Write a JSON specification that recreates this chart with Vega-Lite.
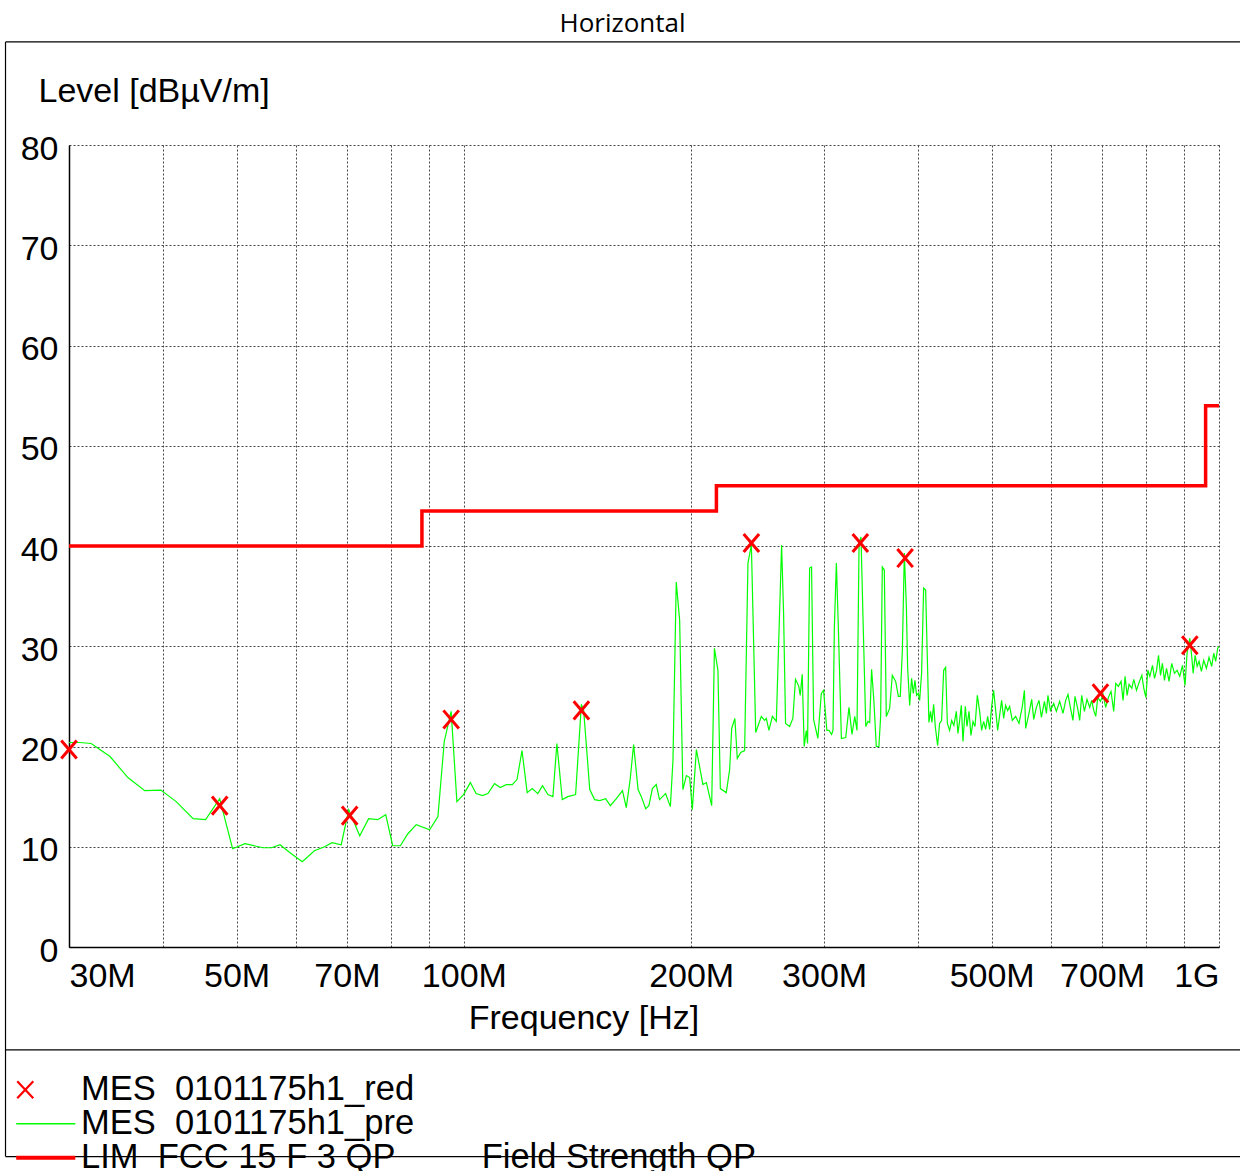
{
  "$schema": "https://vega.github.io/schema/vega-lite/v6.json",
  "width": 1150,
  "height": 802,
  "autosize": {"type": "none"},
  "padding": {"left": 69, "top": 145, "right": 21, "bottom": 224},
  "background": "white",
  "title": {"text": "Horizontal", "orient": "top", "font": "Open Sans", "fontSize": 26, "fontWeight": "normal", "color": "black", "anchor": "middle", "frame": "group", "baseline": "alphabetic", "offset": 10, "dx": -21.5, "dy": 27},
  "config": {"view": {"stroke": null}, "font": "Liberation Sans"},
  "datasets": {
    "lim": [
      {"f": 30, "v": 40, "s": "lim"}, {"f": 88, "v": 43.5, "s": "lim"}, {"f": 216, "v": 46, "s": "lim"}, {"f": 960, "v": 54, "s": "lim"}, {"f": 1000, "v": 54, "s": "lim"}
    ],
    "red": [
      {"f": 30.0, "v": 19.7, "s": "red"}, {"f": 47.5, "v": 14.1, "s": "red"}, {"f": 70.6, "v": 13.1, "s": "red"}, {"f": 96.2, "v": 22.7, "s": "red"}, {"f": 143.1, "v": 23.6, "s": "red"}, {"f": 240.3, "v": 40.3, "s": "red"}, {"f": 335.0, "v": 40.3, "s": "red"}, {"f": 384.0, "v": 38.8, "s": "red"}, {"f": 696.6, "v": 25.3, "s": "red"}, {"f": 914.9, "v": 30.1, "s": "red"}
    ],
    "frame": [{"x1": 24.72, "x2": 1100, "y1": 90.28, "y2": 90.28}, {"x1": 24.72, "x2": 1100, "y1": -10.27, "y2": -10.27}, {"x1": 24.72, "x2": 1100, "y1": -20.91, "y2": -20.91}, {"x1": 24.72, "x2": 24.72, "y1": 90.28, "y2": -20.91}],
    "pre": [
      {"f":30.0,"v":20.4,"s":"pre"},{"f":31.0,"v":20.4,"s":"pre"},{"f":32.1,"v":20.3,"s":"pre"},{"f":34.0,"v":19.0,"s":"pre"},{"f":35.9,"v":16.9,"s":"pre"},{"f":37.8,"v":15.6,"s":"pre"},{"f":39.7,"v":15.65,"s":"pre"},{"f":41.6,"v":14.5,"s":"pre"},{"f":43.8,"v":12.8,"s":"pre"},{"f":45.5,"v":12.7,"s":"pre"},{"f":47.5,"v":14.8,"s":"pre"},{"f":49.4,"v":9.8,"s":"pre"},{"f":51.3,"v":10.3,"s":"pre"},{"f":54.2,"v":9.9,"s":"pre"},{"f":55.6,"v":9.9,"s":"pre"},{"f":57.1,"v":10.2,"s":"pre"},{"f":59.1,"v":9.3,"s":"pre"},{"f":61.1,"v":8.5,"s":"pre"},{"f":63.4,"v":9.6,"s":"pre"},{"f":65.4,"v":10.0,"s":"pre"},{"f":66.9,"v":10.4,"s":"pre"},{"f":68.8,"v":10.2,"s":"pre"},{"f":70.4,"v":13.7,"s":"pre"},{"f":72.8,"v":11.1,"s":"pre"},{"f":74.8,"v":12.8,"s":"pre"},{"f":76.9,"v":12.7,"s":"pre"},{"f":78.8,"v":13.2,"s":"pre"},{"f":80.5,"v":10.1,"s":"pre"},{"f":82.4,"v":10.1,"s":"pre"},{"f":84.3,"v":11.3,"s":"pre"},{"f":86.5,"v":12.2,"s":"pre"},{"f":90.1,"v":11.7,"s":"pre"},{"f":92.4,"v":13.0,"s":"pre"},{"f":94.2,"v":20.5,"s":"pre"},{"f":96.2,"v":23.5,"s":"pre"},{"f":97.9,"v":14.5,"s":"pre"},{"f":99.9,"v":15.2,"s":"pre"},{"f":102.0,"v":16.4,"s":"pre"},{"f":103.8,"v":15.3,"s":"pre"},{"f":105.8,"v":15.1,"s":"pre"},{"f":107.6,"v":15.3,"s":"pre"},{"f":109.8,"v":16.3,"s":"pre"},{"f":111.7,"v":15.9,"s":"pre"},{"f":113.8,"v":16.2,"s":"pre"},{"f":115.9,"v":16.2,"s":"pre"},{"f":117.6,"v":16.7,"s":"pre"},{"f":119.4,"v":19.6,"s":"pre"},{"f":121.3,"v":15.4,"s":"pre"},{"f":123.2,"v":15.8,"s":"pre"},{"f":125.3,"v":15.3,"s":"pre"},{"f":127.1,"v":16.1,"s":"pre"},{"f":129.2,"v":15.2,"s":"pre"},{"f":131.2,"v":15.0,"s":"pre"},{"f":132.8,"v":20.3,"s":"pre"},{"f":135.0,"v":14.7,"s":"pre"},{"f":137.3,"v":15.0,"s":"pre"},{"f":140.6,"v":15.2,"s":"pre"},{"f":143.1,"v":24.2,"s":"pre"},{"f":144.1,"v":23.6,"s":"pre"},{"f":146.8,"v":15.7,"s":"pre"},{"f":149.0,"v":14.7,"s":"pre"},{"f":151.3,"v":14.6,"s":"pre"},{"f":154.1,"v":14.8,"s":"pre"},{"f":156.3,"v":14.1,"s":"pre"},{"f":159.2,"v":14.8,"s":"pre"},{"f":162.2,"v":15.6,"s":"pre"},{"f":164.1,"v":13.9,"s":"pre"},{"f":166.1,"v":16.8,"s":"pre"},{"f":167.8,"v":20.2,"s":"pre"},{"f":170.1,"v":15.7,"s":"pre"},{"f":171.8,"v":15.0,"s":"pre"},{"f":174.1,"v":13.8,"s":"pre"},{"f":175.8,"v":14.1,"s":"pre"},{"f":177.7,"v":15.8,"s":"pre"},{"f":179.8,"v":16.2,"s":"pre"},{"f":181.6,"v":14.7,"s":"pre"},{"f":185.0,"v":15.3,"s":"pre"},{"f":187.7,"v":14.0,"s":"pre"},{"f":189.2,"v":18.6,"s":"pre"},{"f":191.1,"v":36.4,"s":"pre"},{"f":193.1,"v":32.6,"s":"pre"},{"f":195.0,"v":15.7,"s":"pre"},{"f":197.1,"v":17.1,"s":"pre"},{"f":199.1,"v":16.9,"s":"pre"},{"f":200.7,"v":13.7,"s":"pre"},{"f":203.2,"v":19.7,"s":"pre"},{"f":205.2,"v":18.0,"s":"pre"},{"f":207.3,"v":16.2,"s":"pre"},{"f":209.5,"v":16.4,"s":"pre"},{"f":212.9,"v":14.1,"s":"pre"},{"f":214.7,"v":29.8,"s":"pre"},{"f":217.0,"v":27.6,"s":"pre"},{"f":218.6,"v":15.8,"s":"pre"},{"f":222.6,"v":15.4,"s":"pre"},{"f":224.9,"v":17.7,"s":"pre"},{"f":226.3,"v":21.8,"s":"pre"},{"f":228.5,"v":22.8,"s":"pre"},{"f":230.2,"v":18.8,"s":"pre"},{"f":232.6,"v":19.4,"s":"pre"},{"f":235.4,"v":19.6,"s":"pre"},{"f":237.8,"v":38.3,"s":"pre"},{"f":240.3,"v":40.1,"s":"pre"},{"f":243.5,"v":21.4,"s":"pre"},{"f":247.7,"v":23.0,"s":"pre"},{"f":250.2,"v":22.6,"s":"pre"},{"f":251.5,"v":22.8,"s":"pre"},{"f":253.5,"v":21.6,"s":"pre"},{"f":256.2,"v":23.0,"s":"pre"},{"f":259.3,"v":22.5,"s":"pre"},{"f":263.5,"v":40.1,"s":"pre"},{"f":265.1,"v":33.3,"s":"pre"},{"f":266.7,"v":22.3,"s":"pre"},{"f":270.0,"v":22.0,"s":"pre"},{"f":272.7,"v":22.8,"s":"pre"},{"f":274.9,"v":26.7,"s":"pre"},{"f":277.7,"v":26.0,"s":"pre"},{"f":278.9,"v":25.1,"s":"pre"},{"f":280.6,"v":27.2,"s":"pre"},{"f":282.3,"v":20.0,"s":"pre"},{"f":284.1,"v":21.6,"s":"pre"},{"f":285.2,"v":20.3,"s":"pre"},{"f":287.0,"v":37.8,"s":"pre"},{"f":288.7,"v":37.9,"s":"pre"},{"f":290.5,"v":22.7,"s":"pre"},{"f":294.3,"v":20.8,"s":"pre"},{"f":297.4,"v":25.3,"s":"pre"},{"f":299.5,"v":25.6,"s":"pre"},{"f":302.5,"v":21.6,"s":"pre"},{"f":304.4,"v":21.6,"s":"pre"},{"f":306.9,"v":21.2,"s":"pre"},{"f":308.2,"v":21.6,"s":"pre"},{"f":309.5,"v":31.9,"s":"pre"},{"f":311.4,"v":38.3,"s":"pre"},{"f":313.3,"v":31.8,"s":"pre"},{"f":316.2,"v":20.8,"s":"pre"},{"f":320.4,"v":20.9,"s":"pre"},{"f":323.6,"v":23.9,"s":"pre"},{"f":326.6,"v":21.2,"s":"pre"},{"f":329.3,"v":23.0,"s":"pre"},{"f":331.6,"v":21.6,"s":"pre"},{"f":333.7,"v":40.3,"s":"pre"},{"f":335.7,"v":40.9,"s":"pre"},{"f":337.8,"v":32.6,"s":"pre"},{"f":340.6,"v":22.0,"s":"pre"},{"f":342.9,"v":22.5,"s":"pre"},{"f":344.7,"v":22.4,"s":"pre"},{"f":346.7,"v":27.7,"s":"pre"},{"f":349.1,"v":24.6,"s":"pre"},{"f":351.7,"v":20.0,"s":"pre"},{"f":354.5,"v":20.0,"s":"pre"},{"f":356.4,"v":23.0,"s":"pre"},{"f":358.2,"v":37.9,"s":"pre"},{"f":360.4,"v":37.6,"s":"pre"},{"f":362.6,"v":23.0,"s":"pre"},{"f":366.3,"v":23.8,"s":"pre"},{"f":369.3,"v":27.1,"s":"pre"},{"f":373.1,"v":26.5,"s":"pre"},{"f":376.2,"v":25.0,"s":"pre"},{"f":378.4,"v":25.0,"s":"pre"},{"f":380.8,"v":29.6,"s":"pre"},{"f":383.1,"v":39.3,"s":"pre"},{"f":385.5,"v":33.9,"s":"pre"},{"f":387.0,"v":27.8,"s":"pre"},{"f":389.4,"v":24.1,"s":"pre"},{"f":391.7,"v":26.8,"s":"pre"},{"f":393.7,"v":25.3,"s":"pre"},{"f":395.7,"v":26.6,"s":"pre"},{"f":397.7,"v":25.1,"s":"pre"},{"f":399.8,"v":25.3,"s":"pre"},{"f":401.4,"v":24.6,"s":"pre"},{"f":403.8,"v":27.3,"s":"pre"},{"f":406.3,"v":35.8,"s":"pre"},{"f":408.8,"v":35.6,"s":"pre"},{"f":411.3,"v":27.6,"s":"pre"},{"f":412.9,"v":22.4,"s":"pre"},{"f":415.0,"v":23.5,"s":"pre"},{"f":416.7,"v":22.4,"s":"pre"},{"f":418.9,"v":24.2,"s":"pre"},{"f":421.0,"v":22.0,"s":"pre"},{"f":424.0,"v":20.1,"s":"pre"},{"f":426.6,"v":22.3,"s":"pre"},{"f":429.2,"v":22.6,"s":"pre"},{"f":431.9,"v":27.6,"s":"pre"},{"f":434.5,"v":27.9,"s":"pre"},{"f":436.8,"v":22.3,"s":"pre"},{"f":439.8,"v":21.6,"s":"pre"},{"f":442.6,"v":22.6,"s":"pre"},{"f":445.6,"v":22.1,"s":"pre"},{"f":448.9,"v":23.5,"s":"pre"},{"f":451.1,"v":21.3,"s":"pre"},{"f":453.5,"v":22.6,"s":"pre"},{"f":455.8,"v":24.1,"s":"pre"},{"f":458.1,"v":20.5,"s":"pre"},{"f":461.4,"v":24.0,"s":"pre"},{"f":463.7,"v":22.0,"s":"pre"},{"f":466.6,"v":23.5,"s":"pre"},{"f":469.4,"v":21.1,"s":"pre"},{"f":472.3,"v":22.5,"s":"pre"},{"f":475.2,"v":22.0,"s":"pre"},{"f":478.6,"v":25.1,"s":"pre"},{"f":482.0,"v":23.5,"s":"pre"},{"f":484.9,"v":21.6,"s":"pre"},{"f":487.9,"v":22.5,"s":"pre"},{"f":490.9,"v":21.7,"s":"pre"},{"f":493.9,"v":23.0,"s":"pre"},{"f":496.9,"v":21.7,"s":"pre"},{"f":500.0,"v":24.0,"s":"pre"},{"f":503.0,"v":25.6,"s":"pre"},{"f":506.1,"v":23.6,"s":"pre"},{"f":509.2,"v":21.6,"s":"pre"},{"f":512.3,"v":23.1,"s":"pre"},{"f":515.4,"v":24.6,"s":"pre"},{"f":518.6,"v":22.8,"s":"pre"},{"f":521.7,"v":24.1,"s":"pre"},{"f":524.9,"v":23.6,"s":"pre"},{"f":528.1,"v":24.0,"s":"pre"},{"f":532.5,"v":22.6,"s":"pre"},{"f":537.9,"v":23.0,"s":"pre"},{"f":543.4,"v":22.3,"s":"pre"},{"f":549.0,"v":24.0,"s":"pre"},{"f":552.5,"v":25.6,"s":"pre"},{"f":554.6,"v":21.8,"s":"pre"},{"f":560.2,"v":23.3,"s":"pre"},{"f":564.9,"v":24.7,"s":"pre"},{"f":568.4,"v":22.7,"s":"pre"},{"f":573.0,"v":23.9,"s":"pre"},{"f":577.6,"v":24.6,"s":"pre"},{"f":581.9,"v":22.9,"s":"pre"},{"f":587.2,"v":24.5,"s":"pre"},{"f":590.8,"v":23.3,"s":"pre"},{"f":593.6,"v":25.1,"s":"pre"},{"f":598.0,"v":23.6,"s":"pre"},{"f":604.1,"v":24.3,"s":"pre"},{"f":609.0,"v":23.5,"s":"pre"},{"f":615.2,"v":24.5,"s":"pre"},{"f":621.5,"v":23.3,"s":"pre"},{"f":626.6,"v":24.6,"s":"pre"},{"f":631.0,"v":25.2,"s":"pre"},{"f":635.6,"v":23.9,"s":"pre"},{"f":640.6,"v":22.6,"s":"pre"},{"f":644.6,"v":25.0,"s":"pre"},{"f":649.9,"v":23.8,"s":"pre"},{"f":653.9,"v":22.6,"s":"pre"},{"f":657.9,"v":25.1,"s":"pre"},{"f":663.4,"v":23.5,"s":"pre"},{"f":668.7,"v":24.7,"s":"pre"},{"f":674.2,"v":23.9,"s":"pre"},{"f":678.3,"v":24.6,"s":"pre"},{"f":682.5,"v":23.6,"s":"pre"},{"f":686.7,"v":23.0,"s":"pre"},{"f":690.9,"v":24.9,"s":"pre"},{"f":696.6,"v":24.5,"s":"pre"},{"f":702.2,"v":25.2,"s":"pre"},{"f":707.9,"v":23.9,"s":"pre"},{"f":713.8,"v":24.9,"s":"pre"},{"f":719.5,"v":25.5,"s":"pre"},{"f":725.4,"v":23.5,"s":"pre"},{"f":729.9,"v":26.3,"s":"pre"},{"f":735.9,"v":26.0,"s":"pre"},{"f":741.8,"v":26.5,"s":"pre"},{"f":746.4,"v":24.6,"s":"pre"},{"f":751.0,"v":27.0,"s":"pre"},{"f":755.6,"v":25.1,"s":"pre"},{"f":760.2,"v":26.2,"s":"pre"},{"f":766.5,"v":25.8,"s":"pre"},{"f":771.2,"v":26.7,"s":"pre"},{"f":777.6,"v":25.6,"s":"pre"},{"f":783.8,"v":26.4,"s":"pre"},{"f":790.3,"v":27.1,"s":"pre"},{"f":795.1,"v":25.8,"s":"pre"},{"f":800.0,"v":24.9,"s":"pre"},{"f":804.9,"v":27.6,"s":"pre"},{"f":809.8,"v":27.0,"s":"pre"},{"f":816.5,"v":28.1,"s":"pre"},{"f":821.5,"v":26.8,"s":"pre"},{"f":826.6,"v":27.6,"s":"pre"},{"f":831.6,"v":29.1,"s":"pre"},{"f":836.7,"v":27.1,"s":"pre"},{"f":841.4,"v":28.3,"s":"pre"},{"f":846.9,"v":26.6,"s":"pre"},{"f":852.1,"v":27.8,"s":"pre"},{"f":858.8,"v":26.5,"s":"pre"},{"f":865.8,"v":28.3,"s":"pre"},{"f":873.0,"v":27.3,"s":"pre"},{"f":880.0,"v":27.6,"s":"pre"},{"f":887.2,"v":27.0,"s":"pre"},{"f":894.6,"v":28.1,"s":"pre"},{"f":901.6,"v":26.1,"s":"pre"},{"f":907.4,"v":29.4,"s":"pre"},{"f":914.9,"v":30.8,"s":"pre"},{"f":920.4,"v":28.9,"s":"pre"},{"f":924.2,"v":27.3,"s":"pre"},{"f":929.8,"v":29.1,"s":"pre"},{"f":935.5,"v":28.0,"s":"pre"},{"f":941.0,"v":28.5,"s":"pre"},{"f":947.8,"v":27.5,"s":"pre"},{"f":954.4,"v":28.6,"s":"pre"},{"f":962.4,"v":27.8,"s":"pre"},{"f":970.0,"v":28.9,"s":"pre"},{"f":978.0,"v":28.0,"s":"pre"},{"f":984.0,"v":29.3,"s":"pre"},{"f":990.0,"v":28.5,"s":"pre"},{"f":996.1,"v":29.8,"s":"pre"},{"f":1000,"v":30.0,"s":"pre"}
    ]
  },
  "layer": [
    {
      "data": {"name": "frame"},
      "mark": {"type": "rule", "color": "black", "strokeWidth": 1.2, "clip": false},
      "encoding": {
        "x": {"field": "x1", "type": "quantitative", "scale": {"type": "log", "domain": [30, 1000], "nice": false}},
        "x2": {"field": "x2"},
        "y": {"field": "y1", "type": "quantitative", "scale": {"domain": [0, 80], "nice": false}},
        "y2": {"field": "y2"}
      }
    },
    {
      "data": {"name": "lim"},
      "mark": {"type": "line", "interpolate": "step-after", "strokeWidth": 3.5},
      "encoding": {
        "x": {"field": "f", "type": "quantitative", "scale": {"type": "log", "domain": [30, 1000], "nice": false}},
        "y": {"field": "v", "type": "quantitative", "scale": {"domain": [0, 80], "nice": false}},
        "color": {"field": "s", "type": "nominal"}
      }
    },
    {
      "data": {"name": "pre"},
      "mark": {"type": "line", "strokeWidth": 1.2},
      "encoding": {
        "x": {
          "field": "f", "type": "quantitative",
          "scale": {"type": "log", "domain": [30, 1000], "nice": false},
          "axis": {
            "values": [30, 40, 50, 60, 70, 80, 90, 100, 200, 300, 400, 500, 600, 700, 800, 900, 1000],
            "labelExpr": "datum.value == 1000 ? '1G' : (indexof([30,50,70,100,200,300,500,700], datum.value) >= 0 ? datum.value + 'M' : '')",
            "labelFlush": true, "labelOverlap": false, "labelFont": "Liberation Sans", "labelFontSize": 34, "labelColor": "black", "labelPadding": 12,
            "ticks": false, "grid": true, "gridColor": "#444444", "gridDash": [2, 2], "gridWidth": 1,
            "domainColor": "black", "domainWidth": 1.5,
            "title": "Frequency [Hz]", "titleFont": "Liberation Sans", "titleFontSize": 34, "titleFontWeight": "normal", "titleColor": "black",
            "titleX": 514.5, "titleY": 81, "titleAlign": "center", "titleBaseline": "alphabetic"
          }
        },
        "y": {
          "field": "v", "type": "quantitative",
          "scale": {"domain": [0, 80], "nice": false},
          "axis": {
            "values": [0, 10, 20, 30, 40, 50, 60, 70, 80],
            "labelFont": "Liberation Sans", "labelFontSize": 34, "labelColor": "black", "labelPadding": 11, "labelOffset": 4,
            "ticks": false, "grid": true, "gridColor": "#444444", "gridDash": [2, 2], "gridWidth": 1,
            "domainColor": "black", "domainWidth": 1.5,
            "title": "Level [dBµV/m]", "titleFont": "Liberation Sans", "titleFontSize": 34, "titleFontWeight": "normal", "titleColor": "black",
            "titleAngle": 0, "titleAlign": "left", "titleBaseline": "alphabetic", "titleX": -31, "titleY": -43.5
          }
        },
        "color": {
          "field": "s", "type": "nominal",
          "scale": {"domain": ["red", "pre", "lim"], "range": ["#ff0000", "#00ff00", "#ff0000"]},
          "legend": {
            "title": null, "orient": "none", "legendX": -40.5, "legendY": 927.5, "padding": 0,
            "labelFont": "Liberation Sans", "labelFontSize": 34.5, "labelColor": "black", "labelLimit": 2000, "labelOffset": 18,
            "symbolSize": 900, "rowPadding": -2,
            "labelExpr": "datum.value == 'red' ? 'MES\u00a0\u00a00101175h1_red' : datum.value == 'pre' ? 'MES\u00a0\u00a00101175h1_pre' : 'LIM\u00a0\u00a0FCC 15 F 3 QP\u00a0\u00a0\u00a0\u00a0\u00a0\u00a0\u00a0\u00a0\u00a0Field Strength QP'",
            "encode": {
              "symbols": {
                "update": {
                  "shape": {"signal": "datum.value === 'red' ? 'M-1.9,-0.57L-0.83,0.57M-0.83,-0.57L-1.9,0.57' : 'M-1.97,0L1.97,0'"},
                  "strokeWidth": {"signal": "datum.value === 'lim' ? 4 : datum.value === 'red' ? 2.2 : 1.3"},
                  "stroke": {"signal": "datum.value === 'pre' ? '#00ff00' : '#ff0000'"},
                  "fill": {"value": "transparent"},
                  "opacity": {"value": 1}
                }
              }
            }
          }
        }
      }
    },
    {
      "data": {"name": "red"},
      "mark": {"type": "point", "shape": "M-0.85,-1L0.85,1M0.85,-1L-0.85,1", "filled": false, "size": 330, "strokeWidth": 3, "opacity": 1},
      "encoding": {
        "x": {"field": "f", "type": "quantitative", "scale": {"type": "log", "domain": [30, 1000], "nice": false}},
        "y": {"field": "v", "type": "quantitative", "scale": {"domain": [0, 80], "nice": false}},
        "color": {"field": "s", "type": "nominal"}
      }
    }
  ]
}
